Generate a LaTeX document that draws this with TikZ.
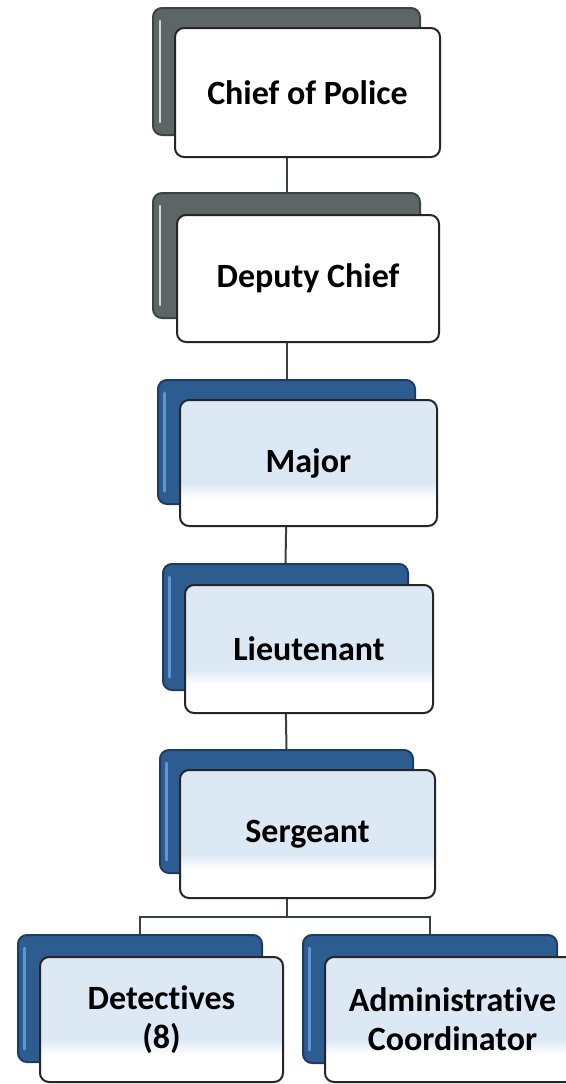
\documentclass[tikz,border=0pt]{standalone}
\usepackage{fontspec}
\setmainfont[Ligatures=NoCommon]{Carlito}
\usetikzlibrary{backgrounds}
\definecolor{gback}{HTML}{5E6567}
\definecolor{gedge}{HTML}{3E4446}
\definecolor{ghl}{HTML}{D5D8D9}
\definecolor{bback}{HTML}{2D5C90}
\definecolor{bedge}{HTML}{1E3C63}
\definecolor{bhl}{HTML}{5E95D3}
\definecolor{fblue}{HTML}{DDE8F5}
\definecolor{lineC}{HTML}{3A3F44}
\pgfdeclareverticalshading{frontshade}{100bp}{color(0bp)=(white); color(36bp)=(white); color(42bp)=(fblue); color(100bp)=(fblue)}
\tikzset{
  box/.style={rectangle, rounded corners=9pt, line width=2pt, inner sep=0pt, align=center,
    font=\fontsize{34}{39}\selectfont\bfseries},
  grayback/.style={box, fill=gback, draw=gedge},
  blueback/.style={box, fill=bback, draw=bedge},
  whitefront/.style={box, fill=white, draw=black!85},
  bluefront/.style={box, shade, shading=frontshade, draw=black!85},
  conn/.style={draw=lineC, line width=2pt},
  ghilite/.style={draw=ghl, line width=2.5pt, line cap=round},
  bhilite/.style={draw=bhl, line width=3pt, line cap=round},
}
\begin{document}
\begin{tikzpicture}[x=1pt,y=-1pt]
\useasboundingbox (0,0) rectangle (565,1084);
% Chief of Police
\node[grayback, minimum width=267pt, minimum height=127pt] (c1b) at (286.5,71.5) {};
\draw[ghilite] ([xshift=8pt,yshift=-14pt]c1b.north west) -- ([xshift=8pt,yshift=14pt]c1b.south west);
\node[whitefront, minimum width=265pt, minimum height=129pt] (c1) at (307.5,92.5) {Chief of Police};
% Deputy Chief
\node[grayback, minimum width=267pt, minimum height=125pt] (c2b) at (286.5,255.5) {};
\draw[ghilite] ([xshift=8pt,yshift=-14pt]c2b.north west) -- ([xshift=8pt,yshift=14pt]c2b.south west);
\node[whitefront, minimum width=262pt, minimum height=127pt] (c2) at (308,278.5) {Deputy Chief};
% Major
\node[blueback, minimum width=257pt, minimum height=124pt] (c3b) at (286.5,442) {};
\draw[bhilite] ([xshift=7pt,yshift=-14pt]c3b.north west) -- ([xshift=7pt,yshift=14pt]c3b.south west);
\node[bluefront, minimum width=257pt, minimum height=126pt] (c3) at (308.5,463) {Major};
% Lieutenant
\node[blueback, minimum width=245pt, minimum height=126pt] (c4b) at (285.5,627) {};
\draw[bhilite] ([xshift=7pt,yshift=-14pt]c4b.north west) -- ([xshift=7pt,yshift=14pt]c4b.south west);
\node[bluefront, minimum width=248pt, minimum height=128pt] (c4) at (309,649) {Lieutenant};
% Sergeant
\node[blueback, minimum width=253pt, minimum height=123pt] (c5b) at (286.5,811.5) {};
\draw[bhilite] ([xshift=7pt,yshift=-14pt]c5b.north west) -- ([xshift=7pt,yshift=14pt]c5b.south west);
\node[bluefront, minimum width=255pt, minimum height=128pt] (c5) at (307.5,834) {Sergeant};
% Detectives
\node[blueback, minimum width=244pt, minimum height=127pt] (d1b) at (140,998.5) {};
\draw[bhilite] ([xshift=7pt,yshift=-14pt]d1b.north west) -- ([xshift=7pt,yshift=14pt]d1b.south west);
\node[bluefront, minimum width=243pt, minimum height=125pt] (d1) at (161.5,1019.5) {Detectives\\(8)};
% Administrative Coordinator
\node[blueback, minimum width=254pt, minimum height=128pt] (d2b) at (430,999) {};
\draw[bhilite] ([xshift=7pt,yshift=-14pt]d2b.north west) -- ([xshift=7pt,yshift=14pt]d2b.south west);
\node[bluefront, minimum width=255pt, minimum height=125pt] (d2) at (452.5,1019.5) {Administrative\\Coordinator};
% connectors
\coordinate (j) at (286.5,917);
\begin{pgfonlayer}{background}
\fill[white] (0,0) rectangle (565,1084);
\draw[conn] (c1b.south) -- (c2b.north);
\draw[conn] (c2b.south) -- (c3b.north);
\draw[conn] (c3b.south) -- (c4b.north);
\draw[conn] (c4b.south) -- (c5b.north);
\draw[conn] (c5b.south) -- (j);
\draw[conn] (d1b.north) |- (j) -| (d2b.north);
\end{pgfonlayer}
\end{tikzpicture}
\end{document}
